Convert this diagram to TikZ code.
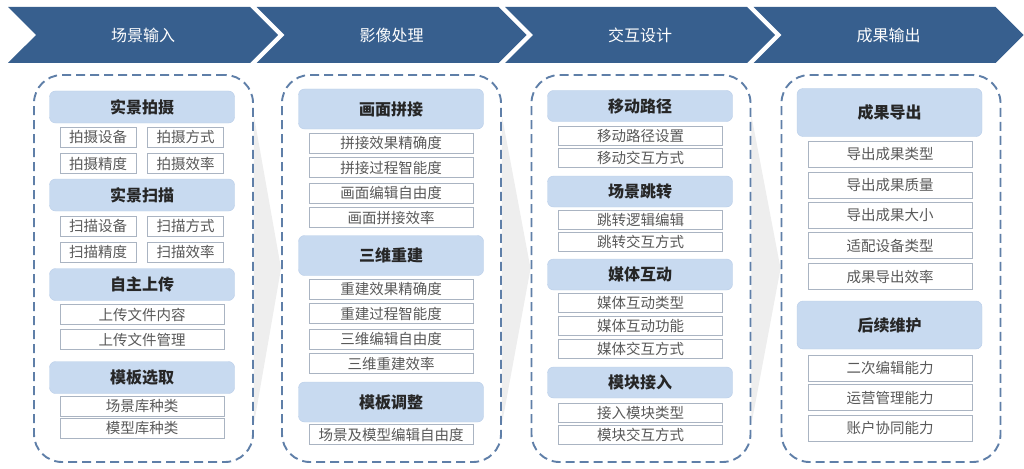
\documentclass[tikz,border=0pt]{standalone}
\usepackage{fontspec}
\newfontfamily\cjk{Noto Sans CJK SC}
\usetikzlibrary{shapes.symbols,backgrounds}
\definecolor{chevblue}{HTML}{375F8E}
\definecolor{dashblue}{HTML}{5F7FA8}
\definecolor{headfill}{HTML}{C8DAF0}
\definecolor{headline}{HTML}{B9CDE8}
\definecolor{headtext}{HTML}{262626}
\definecolor{itemline}{HTML}{AAB4C2}
\definecolor{itemtext}{HTML}{595959}
\definecolor{wedgegray}{HTML}{EEEEEE}

\begin{document}
\begin{tikzpicture}[
  x=1pt,y=-1pt,
  chevron/.style={signal,signal from=west,signal to=east,fill=chevblue,minimum width=270pt,minimum height=56pt,inner sep=0pt,text=white,font=\cjk\fontsize{16}{18}\selectfont},
  panel/.style={draw=dashblue,dash pattern=on 9pt off 5pt,line width=1.9pt,rounded corners=28pt,minimum width=219pt,minimum height=387pt},
  head/.style={draw=headline,fill=headfill,rounded corners=6pt,minimum width=185pt,inner sep=0pt,text=headtext,font=\cjk\bfseries\fontsize{16}{18}\selectfont},
  item/.style={draw=itemline,fill=white,minimum width=164pt,inner sep=0pt,text=itemtext,font=\cjk\fontsize{14.5}{16}\selectfont},
  half/.style={item,minimum width=76pt},
  wedge/.style={fill=wedgegray}
]
\useasboundingbox (0,0) rectangle (1024,468);

% stage banners
\node[chevron] (input) at (143,35) {场景输入};
\node[chevron] (image) at (391.5,35) {影像处理};
\node[chevron] (inter) at (640,35) {交互设计};
\node[chevron] (output) at (888.5,35) {成果输出};

% dashed panels
\node[panel] (col1) at (143.5,268.5) {};
\node[panel] (col2) at (391.5,268.5) {};
\node[panel] (col3) at (641,268.5) {};
\node[panel] (col4) at (891,268.5) {};

% grey arrows between panels
\begin{scope}[on background layer]
\fill[wedge] ([yshift=-42pt]col1.north east) -- (col2.west) -- ([yshift=39pt]col1.south east) -- cycle;
\fill[wedge] ([yshift=-42pt]col2.north east) -- (col3.west) -- ([yshift=39pt]col2.south east) -- cycle;
\fill[wedge] ([yshift=-42pt]col3.north east) -- (col4.west) -- ([yshift=39pt]col3.south east) -- cycle;
\end{scope}

% scene input
\begin{scope}[head/.append style={minimum height=32pt},item/.append style={minimum height=20pt}]
\node[head] (shoot) at (142,107) {实景拍摄};
\node[half] (shoot1) at (98,137) {拍摄设备};
\node[half] (shoot2) at (185.5,137) {拍摄方式};
\node[half] (shoot3) at (98,163.5) {拍摄精度};
\node[half] (shoot4) at (185.5,163.5) {拍摄效率};
\node[head] (scan) at (142,195) {实景扫描};
\node[half] (scan1) at (98,226) {扫描设备};
\node[half] (scan2) at (185.5,226) {扫描方式};
\node[half] (scan3) at (98,252) {扫描精度};
\node[half] (scan4) at (185.5,252) {扫描效率};
\node[head] (upload) at (142,284.5) {自主上传};
\node[item] (upload1) at (142,314.5) {上传文件内容};
\node[item] (upload2) at (142,339.5) {上传文件管理};
\node[head] (pick) at (142,377.5) {模板选取};
\node[item] (pick1) at (142,406.5) {场景库种类};
\node[item] (pick2) at (142,428.5) {模型库种类};
\end{scope}

% image processing
\begin{scope}[head/.append style={minimum height=40pt},item/.append style={minimum height=20pt}]
\node[head] (stitch) at (391,109) {画面拼接};
\node[item] (stitch1) at (391,143) {拼接效果精确度};
\node[item] (stitch2) at (391,167.5) {拼接过程智能度};
\node[item] (stitch3) at (391,193) {画面编辑自由度};
\node[item] (stitch4) at (391,217.5) {画面拼接效率};
\node[head] (recon) at (391,255.5) {三维重建};
\node[item] (recon1) at (391,289) {重建效果精确度};
\node[item] (recon2) at (391,313.5) {重建过程智能度};
\node[item] (recon3) at (391,339) {三维编辑自由度};
\node[item] (recon4) at (391,363.5) {三维重建效率};
\node[head] (adjust) at (391,402) {模板调整};
\node[item] (adjust1) at (391,434.5) {场景及模型编辑自由度};
\end{scope}

% interaction design
\begin{scope}[head/.append style={minimum height=31pt},item/.append style={minimum height=19pt}]
\node[head] (path) at (640,106) {移动路径};
\node[item] (path1) at (640.5,136) {移动路径设置};
\node[item] (path2) at (640.5,157.5) {移动交互方式};
\node[head] (jump) at (640,191.5) {场景跳转};
\node[item] (jump1) at (640.5,219.5) {跳转逻辑编辑};
\node[item] (jump2) at (640.5,242) {跳转交互方式};
\node[head] (media) at (640,274.5) {媒体互动};
\node[item] (media1) at (640.5,302.5) {媒体互动类型};
\node[item] (media2) at (640.5,326) {媒体互动功能};
\node[item] (media3) at (640.5,348.5) {媒体交互方式};
\node[head] (module) at (640,382.5) {模块接入};
\node[item] (module1) at (640.5,412.5) {接入模块类型};
\node[item] (module2) at (640.5,435) {模块交互方式};
\end{scope}

% result output
\begin{scope}[head/.append style={minimum height=48pt},item/.append style={minimum height=26pt}]
\node[head] (export) at (889.5,112.5) {成果导出};
\node[item] (export1) at (890,154.5) {导出成果类型};
\node[item] (export2) at (890,185) {导出成果质量};
\node[item] (export3) at (890,215.5) {导出成果大小};
\node[item] (export4) at (890,245.5) {适配设备类型};
\node[item] (export5) at (890,276.5) {成果导出效率};
\node[head] (keep) at (889.5,325) {后续维护};
\node[item] (keep1) at (890,368) {二次编辑能力};
\node[item] (keep2) at (890,397.5) {运营管理能力};
\node[item] (keep3) at (890,428) {账户协同能力};
\end{scope}
\end{tikzpicture}
\end{document}
